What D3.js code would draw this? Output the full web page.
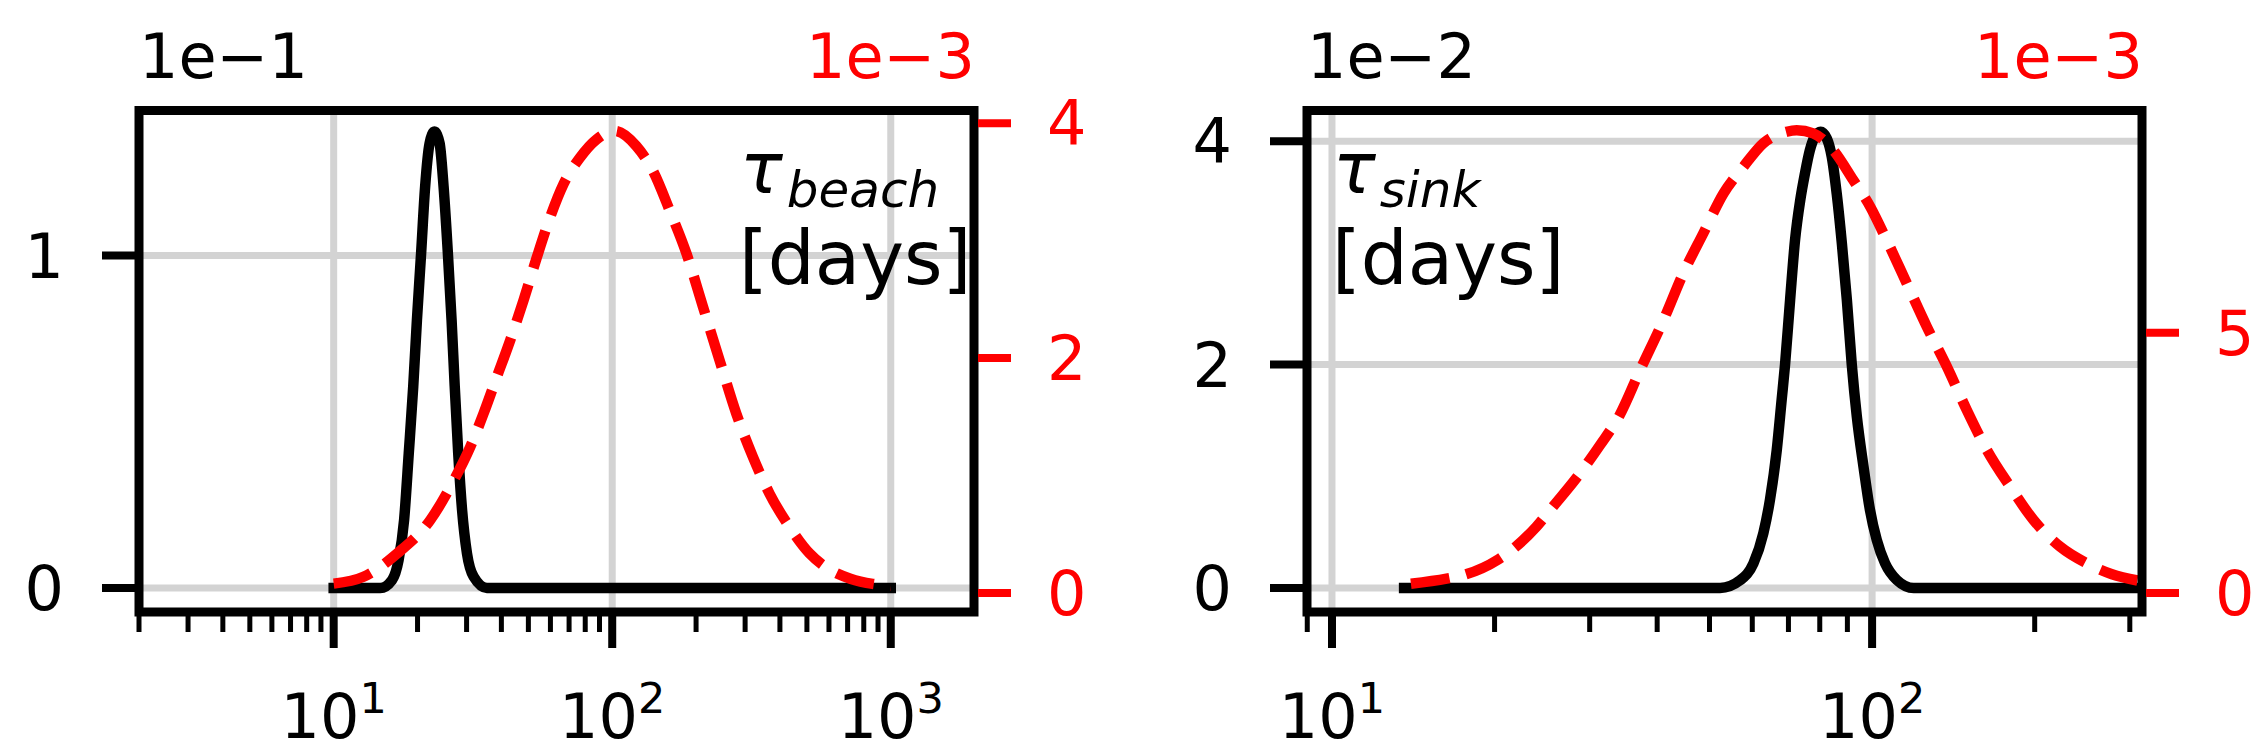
<!DOCTYPE html>
<html>
<head>
<meta charset="utf-8">
<script src="https://cdn.jsdelivr.net/npm/d3@7"></script>
<style>
  body { margin: 0; background: #fff; }
  svg { display: block; }
  text { font-family: "DejaVu Sans", sans-serif; }
</style>
</head>
<body>
<div id="chart"></div>
<script>
// beach panel: black = left axis (x1e-1), red dashed = right axis (x1e-3)
const beachBlackX = [10, 14.7, 16.2, 17.1, 17.9, 18.6, 19.3, 19.9, 20.6, 21.3, 22.1, 23.0, 24.0, 24.8, 25.7, 26.5, 27.2, 28.0, 28.9, 30.1, 31.8, 35.5, 1000];
const beachBlackY = [0, 0, 0.024, 0.084, 0.205, 0.405, 0.606, 0.806, 1.007, 1.208, 1.338, 1.373, 1.338, 1.208, 1.007, 0.806, 0.606, 0.405, 0.235, 0.104, 0.034, 0, 0];
const beachRedX = [10, 12.8, 16.9, 22.2, 27.0, 30.9, 34.5, 38.5, 43.0, 48.0, 53.6, 59.8, 66.8, 76.6, 87.9, 102, 122, 140, 161, 185, 212, 243, 279, 320, 367, 433, 511, 594, 716, 861, 1000];
const beachRedY = [0.08, 0.138, 0.337, 0.62, 0.96, 1.243, 1.527, 1.838, 2.15, 2.49, 2.857, 3.197, 3.48, 3.707, 3.863, 3.934, 3.806, 3.594, 3.254, 2.886, 2.433, 1.98, 1.527, 1.158, 0.847, 0.563, 0.337, 0.21, 0.122, 0.078, 0.064];

// sink panel: black = left axis (x1e-2), red dashed = right axis (x1e-3)
const sinkBlackX = [13.6, 52.3, 57.0, 60.3, 62.9, 64.7, 66.6, 68.0, 69.0, 70.5, 72.0, 73.6, 75.1, 76.7, 78.3, 80.3, 82.4, 84.2, 86.0, 87.9, 89.8, 91.7, 93.7, 96.4, 99.1, 102.0, 105.7, 111.1, 119.4, 330];
const sinkBlackY = [0, 0, 0.07, 0.22, 0.49, 0.79, 1.235, 1.683, 2.0, 2.58, 3.115, 3.47, 3.71, 3.92, 4.04, 4.085, 4.026, 3.86, 3.53, 3.086, 2.578, 2.0, 1.534, 1.086, 0.698, 0.43, 0.22, 0.072, 0, 0];
const sinkRedX = [14.0, 16.3, 17.5, 20.3, 21.8, 23.9, 25.7, 28.3, 31.4, 34.1, 37.2, 41.1, 44.7, 48.7, 53.1, 57.8, 62.9, 69.5, 72.5, 77.8, 84.7, 92.3, 99.2, 106.4, 115.9, 126.2, 137.5, 149.7, 163.1, 180.2, 199.1, 222.9, 249.8, 278.0, 310];
const sinkRedY = [0.177, 0.275, 0.343, 0.642, 0.873, 1.272, 1.67, 2.2, 2.85, 3.42, 4.283, 5.244, 6.14, 6.91, 7.68, 8.19, 8.64, 8.86, 8.89, 8.83, 8.51, 7.93, 7.42, 6.78, 5.95, 5.12, 4.35, 3.515, 2.747, 2.04, 1.4, 0.89, 0.57, 0.36, 0.24];

// ticks
const beachXTicks = [10, 100, 1000];
const beachBlackTicks = [0, 1];
const beachRedTicks = [0, 2, 4];
const sinkXTicks = [10, 100];
const sinkBlackTicks = [0, 2, 4];
const sinkRedTicks = [0, 5];

const width = 2255;
const height = 756;
const RED = '#ff0000';
const GRID = '#d3d3d3';

const svg = d3.select('#chart')
  .append('svg')
  .attr('width', width)
  .attr('height', height);

function createPanel(cfg) {
  const { left, right, top, bottom } = cfg.frame;

  const x = d3.scaleLog().domain(cfg.xDomain).range([left, right]);
  const yBlack = d3.scaleLinear().domain(cfg.blackDomain).range([bottom, top]);
  const yRed = d3.scaleLinear().domain(cfg.redDomain).range([bottom, top]);

  const g = svg.append('g');

  const clipId = 'clip-' + cfg.id;
  svg.append('clipPath').attr('id', clipId)
    .append('rect')
    .attr('x', left).attr('y', top)
    .attr('width', right - left).attr('height', bottom - top);

  // grid lines (from the black axis and the major x ticks)
  g.selectAll('.gx')
    .data(cfg.xTicks)
    .enter().append('line')
    .attr('x1', d => x(d)).attr('x2', d => x(d))
    .attr('y1', top).attr('y2', bottom)
    .attr('stroke', GRID).attr('stroke-width', 7);

  g.selectAll('.gy')
    .data(cfg.blackTicks)
    .enter().append('line')
    .attr('x1', left).attr('x2', right)
    .attr('y1', d => yBlack(d)).attr('y2', d => yBlack(d))
    .attr('stroke', GRID).attr('stroke-width', 7);

  const plot = g.append('g').attr('clip-path', `url(#${clipId})`);

  const blackData = cfg.blackX.map((v, i) => [v, cfg.blackY[i]]);
  const redData = cfg.redX.map((v, i) => [v, cfg.redY[i]]);

  plot.append('path')
    .datum(blackData)
    .attr('fill', 'none')
    .attr('stroke', '#000')
    .attr('stroke-width', 10.5)
    .attr('stroke-linejoin', 'round')
    .attr('stroke-linecap', 'square')
    .attr('d', d3.line().x(d => x(d[0])).y(d => yBlack(d[1])).curve(d3.curveMonotoneX));

  plot.append('path')
    .datum(redData)
    .attr('fill', 'none')
    .attr('stroke', RED)
    .attr('stroke-width', 10.5)
    .attr('stroke-linejoin', 'round')
    .attr('stroke-dasharray', '39,17')
    .attr('d', d3.line().x(d => x(d[0])).y(d => yRed(d[1])).curve(d3.curveMonotoneX));

  // frame
  g.append('rect')
    .attr('x', left).attr('y', top)
    .attr('width', right - left).attr('height', bottom - top)
    .attr('fill', 'none')
    .attr('stroke', '#000')
    .attr('stroke-width', 9);

  // bottom ticks: majors + minors of the log scale
  const [d0, d1] = x.domain();
  const minor = [];
  for (let e = Math.floor(Math.log10(d0)); e <= Math.ceil(Math.log10(d1)); e++) {
    for (let m = 2; m <= 9; m++) {
      const v = m * Math.pow(10, e);
      if (v >= d0 * 0.999 && v <= d1) minor.push(v);
    }
  }
  g.selectAll('.minor')
    .data(minor)
    .enter().append('line')
    .attr('x1', d => x(d)).attr('x2', d => x(d))
    .attr('y1', bottom).attr('y2', bottom + 20)
    .attr('stroke', '#000').attr('stroke-width', 5);

  g.selectAll('.major')
    .data(cfg.xTicks)
    .enter().append('line')
    .attr('x1', d => x(d)).attr('x2', d => x(d))
    .attr('y1', bottom).attr('y2', bottom + 36)
    .attr('stroke', '#000').attr('stroke-width', 8);

  const xLabels = g.selectAll('.xl')
    .data(cfg.xTicks)
    .enter().append('text')
    .attr('x', d => x(d))
    .attr('y', 738)
    .attr('text-anchor', 'middle')
    .style('font-size', '62px');
  xLabels.append('tspan').text('10');
  xLabels.append('tspan')
    .attr('dy', -25)
    .style('font-size', '43px')
    .text(d => Math.round(Math.log10(d)));

  // left (black) y axis
  g.selectAll('.lt')
    .data(cfg.blackTicks)
    .enter().append('line')
    .attr('x1', left - 37).attr('x2', left)
    .attr('y1', d => yBlack(d)).attr('y2', d => yBlack(d))
    .attr('stroke', '#000').attr('stroke-width', 8);

  g.selectAll('.ll')
    .data(cfg.blackTicks)
    .enter().append('text')
    .attr('x', left - 75)
    .attr('y', d => yBlack(d) + 22)
    .attr('text-anchor', 'end')
    .style('font-size', '62px')
    .text(d => d);

  // right (red) y axis
  g.selectAll('.rt')
    .data(cfg.redTicks)
    .enter().append('line')
    .attr('x1', right + 4).attr('x2', right + 37)
    .attr('y1', d => yRed(d)).attr('y2', d => yRed(d))
    .attr('stroke', RED).attr('stroke-width', 8);

  g.selectAll('.rl')
    .data(cfg.redTicks)
    .enter().append('text')
    .attr('x', right + 73)
    .attr('y', d => yRed(d) + 22)
    .attr('text-anchor', 'start')
    .attr('fill', RED)
    .style('font-size', '62px')
    .text(d => d);

  // offset texts
  g.append('text')
    .attr('x', left).attr('y', 78)
    .style('font-size', '62px')
    .text(cfg.blackOffset);

  g.append('text')
    .attr('x', right + 1).attr('y', 78)
    .attr('text-anchor', 'end')
    .attr('fill', RED)
    .style('font-size', '62px')
    .text(cfg.redOffset);

  // annotation
  const label = g.append('text')
    .attr('x', cfg.labelX).attr('y', 193)
    .style('font-size', '71px');
  label.append('tspan').style('font-style', 'italic').text('τ');
  label.append('tspan')
    .attr('dx', 4).attr('dy', 14)
    .style('font-style', 'italic')
    .style('font-size', '50px')
    .text(cfg.sub);

  g.append('text')
    .attr('x', cfg.labelX - 1).attr('y', 284)
    .style('font-size', '74px')
    .text('[days]');
}

createPanel({
  id: 'beach',
  frame: { left: 139, right: 974, top: 110.5, bottom: 612 },
  xDomain: [2.0, 1990],
  blackDomain: [-0.0722, 1.4365],
  redDomain: [-0.1614, 4.1079],
  xTicks: beachXTicks,
  blackTicks: beachBlackTicks,
  redTicks: beachRedTicks,
  blackX: beachBlackX, blackY: beachBlackY,
  redX: beachRedX, redY: beachRedY,
  blackOffset: '1e\u22121',
  redOffset: '1e\u22123',
  sub: 'beach',
  labelX: 740
});

createPanel({
  id: 'sink',
  frame: { left: 1307, right: 2142, top: 110.5, bottom: 612 },
  xDomain: [8.99, 316],
  blackDomain: [-0.2149, 4.2749],
  redDomain: [-0.365, 9.268],
  xTicks: sinkXTicks,
  blackTicks: sinkBlackTicks,
  redTicks: sinkRedTicks,
  blackX: sinkBlackX, blackY: sinkBlackY,
  redX: sinkRedX, redY: sinkRedY,
  blackOffset: '1e\u22122',
  redOffset: '1e\u22123',
  sub: 'sink',
  labelX: 1333
});
</script>
</body>
</html>
